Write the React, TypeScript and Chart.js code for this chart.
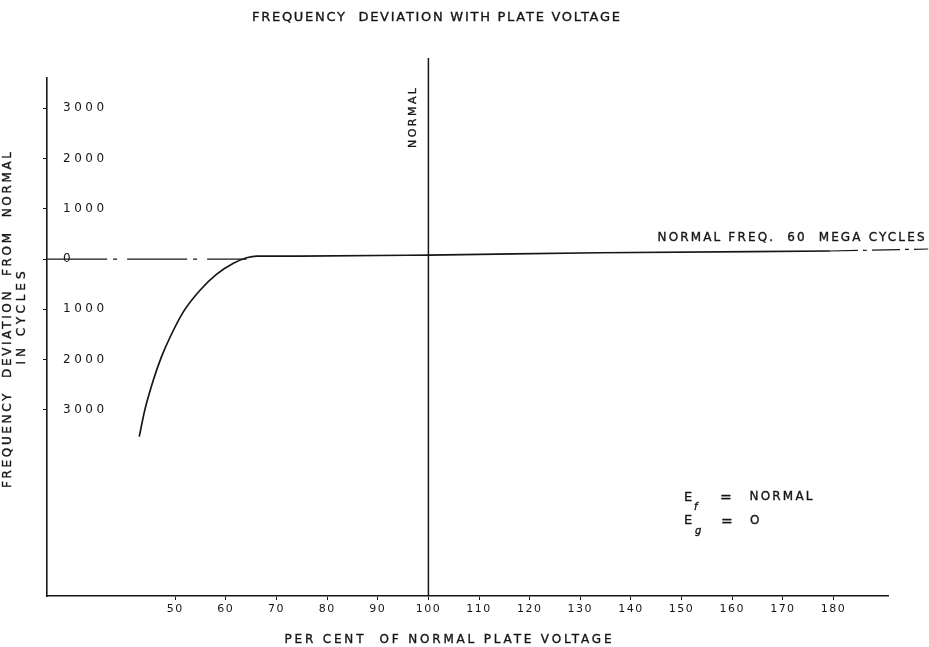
import React, { useEffect, useRef } from "react";
import { Chart, registerables } from "chart.js";

Chart.register(...registerables);

// ---- data ----
const xTickValues = [50, 60, 70, 80, 90, 100, 110, 120, 130, 140, 150, 160, 170, 180];
const yTickValues = [-3000, -2000, -1000, 0, 1000, 2000, 3000];

// per cent of normal plate voltage -> frequency deviation (cycles)
const curveVoltage = [42.9, 44.0, 45.7, 47.3, 49.0, 51.6, 54.9, 58.2, 61.5, 64.1, 66.1, 74.6, 100, 133.9, 179.3];
const curveDeviation = [-3530, -3000, -2400, -1940, -1550, -1050, -620, -300, -85, 25, 60, 60, 80, 125, 160];

const zeroLineVoltage = [24.7, 64.1];
const zeroLineDeviation = [0, 0];

const extensionVoltage = [179.3, 198.7];
const extensionDeviation = [160, 200];

const normalVoltage = [100, 100];
const normalDeviation = [-6700, 4000];

const xMin = 24.68;
const xMax = 190.76;
const yMin = -6700;
const yMax = 3600;

const INK = "#161616";
const FONT = "DejaVu Sans";

const pts = (xs: number[], ys: number[]) => xs.map((x, i) => ({ x, y: ys[i] }));

function drawFitted(
  ctx: CanvasRenderingContext2D,
  text: string,
  cx: number,
  cy: number,
  width: number,
  font: string,
  rotation = 0
) {
  ctx.save();
  ctx.font = font;
  (ctx as any).letterSpacing = "0px";
  const natural = ctx.measureText(text).width;
  const ls = (width - natural) / Math.max(1, text.length - 1);
  (ctx as any).letterSpacing = ls + "px";
  ctx.translate(cx, cy);
  ctx.rotate(rotation);
  ctx.textAlign = "left";
  ctx.textBaseline = "middle";
  ctx.fillStyle = INK;
  ctx.strokeStyle = INK;
  ctx.lineWidth = 0.35;
  ctx.fillText(text, -width / 2, 0);
  ctx.strokeText(text, -width / 2, 0);
  ctx.restore();
}

function drawPlain(ctx: CanvasRenderingContext2D, text: string, x: number, cy: number, font: string) {
  ctx.save();
  ctx.font = font;
  ctx.textAlign = "left";
  ctx.textBaseline = "middle";
  ctx.fillStyle = INK;
  ctx.strokeStyle = INK;
  ctx.lineWidth = 0.35;
  ctx.fillText(text, x, cy);
  ctx.strokeText(text, x, cy);
  ctx.restore();
}

const spacingPlugin = {
  id: "tickSpacing",
  beforeDraw(chart: any) {
    const wrap = (scale: any, ls: string) => {
      if (!scale || scale.__lsWrapped) return;
      const orig = scale.drawLabels.bind(scale);
      scale.drawLabels = (area: any) => {
        const ctx = scale.ctx;
        ctx.save();
        ctx.letterSpacing = ls;
        orig(area);
        ctx.restore();
      };
      scale.__lsWrapped = true;
    };
    wrap(chart.scales.x, "1.5px");
    wrap(chart.scales.y, "3.5px");
  },
};

const textPlugin = {
  id: "chartTexts",
  afterDraw(chart: any) {
    const ctx = chart.ctx as CanvasRenderingContext2D;
    const xs = chart.scales.x;
    const normalPx = xs.getPixelForValue(100);

    drawFitted(ctx, "FREQUENCY  DEVIATION WITH PLATE VOLTAGE", 436, 18, 368, `13px ${FONT}`);
    drawFitted(ctx, "PER CENT  OF NORMAL PLATE VOLTAGE", 448, 640, 327, `12px ${FONT}`);
    drawFitted(ctx, "FREQUENCY  DEVIATION  FROM  NORMAL", 8, 320, 336, `12px ${FONT}`, -Math.PI / 2);
    drawFitted(ctx, "IN CYCLES", 22, 318, 93, `12px ${FONT}`, -Math.PI / 2);
    drawFitted(ctx, "NORMAL", normalPx - 15, 118, 60, `11px ${FONT}`, -Math.PI / 2);
    drawFitted(ctx, "NORMAL FREQ.  60  MEGA CYCLES", 791, 238, 267, `12px ${FONT}`);

    // E_f = NORMAL
    drawPlain(ctx, "E", 684, 498, `13px ${FONT}`);
    drawPlain(ctx, "f", 694, 507, `italic 10px ${FONT}`);
    drawPlain(ctx, "=", 720, 498, `14px ${FONT}`);
    drawFitted(ctx, "NORMAL", 781, 497, 63, `12px ${FONT}`);
    // E_g = O
    drawPlain(ctx, "E", 684, 521, `13px ${FONT}`);
    drawPlain(ctx, "g", 695, 531, `italic 10px ${FONT}`);
    drawPlain(ctx, "=", 721, 522, `14px ${FONT}`);
    drawPlain(ctx, "O", 750, 521, `12px ${FONT}`);
  },
};

export default function App() {
  const ref = useRef<HTMLCanvasElement | null>(null);

  useEffect(() => {
    if (!ref.current) return;
    Chart.defaults.font.family = FONT;
    Chart.defaults.color = INK;

    const chart = new Chart(ref.current, {
      type: "line",
      data: {
        datasets: [
          {
            label: "Frequency deviation",
            data: pts(curveVoltage, curveDeviation),
            borderColor: INK,
            borderWidth: 1.7,
            pointRadius: 0,
            tension: 0.4,
            cubicInterpolationMode: "monotone",
          },
          {
            label: "Zero",
            data: pts(zeroLineVoltage, zeroLineDeviation),
            borderColor: INK,
            borderWidth: 1.2,
            borderDash: [60, 6, 4, 10],
            pointRadius: 0,
          },
          {
            label: "Normal freq",
            data: pts(extensionVoltage, extensionDeviation),
            borderColor: INK,
            borderWidth: 1.2,
            borderDash: [28, 5, 4, 5],
            pointRadius: 0,
            clip: false,
          },
          {
            label: "Normal voltage",
            data: pts(normalVoltage, normalDeviation),
            borderColor: INK,
            borderWidth: 1.5,
            pointRadius: 0,
            clip: false,
          },
        ],
      },
      options: {
        animation: false,
        responsive: false,
        layout: { padding: { top: 78, right: 41, bottom: 0, left: 0 } },
        plugins: {
          legend: { display: false },
          tooltip: { enabled: false },
          title: { display: false },
        },
        scales: {
          x: {
            type: "linear",
            min: xMin,
            max: xMax,
            afterBuildTicks: (s: any) => {
              s.ticks = xTickValues.map((v) => ({ value: v }));
            },
            afterFit: (s: any) => {
              s.height = 51;
            },
            ticks: {
              autoSkip: false,
              maxRotation: 0,
              padding: 3,
              color: INK,
              font: { size: 11, family: FONT },
              callback: (v: any) => String(v),
            },
            grid: {
              display: true,
              drawOnChartArea: false,
              drawTicks: true,
              tickLength: 4,
              color: INK,
              lineWidth: 1,
            },
            border: { display: true, color: INK, width: 1.6 },
          },
          y: {
            type: "linear",
            min: yMin,
            max: yMax,
            afterBuildTicks: (s: any) => {
              s.ticks = yTickValues.map((v) => ({ value: v }));
            },
            afterFit: (s: any) => {
              s.width = 47;
            },
            ticks: {
              mirror: true,
              padding: 16,
              autoSkip: false,
              color: INK,
              font: { size: 12, family: FONT },
              callback: (v: any) => String(Math.abs(Number(v))),
            },
            grid: {
              display: true,
              drawOnChartArea: false,
              drawTicks: true,
              tickLength: 4,
              color: INK,
              lineWidth: 1,
            },
            border: { display: true, color: INK, width: 1.6 },
          },
        },
      },
      plugins: [spacingPlugin, textPlugin],
    } as any);

    return () => chart.destroy();
  }, []);

  return (
    <div style={{ position: "fixed", left: 0, top: 0, width: 929, height: 647, background: "#fff" }}>
      <canvas ref={ref} width={929} height={647} style={{ display: "block", width: 929, height: 647 }} />
    </div>
  );
}
